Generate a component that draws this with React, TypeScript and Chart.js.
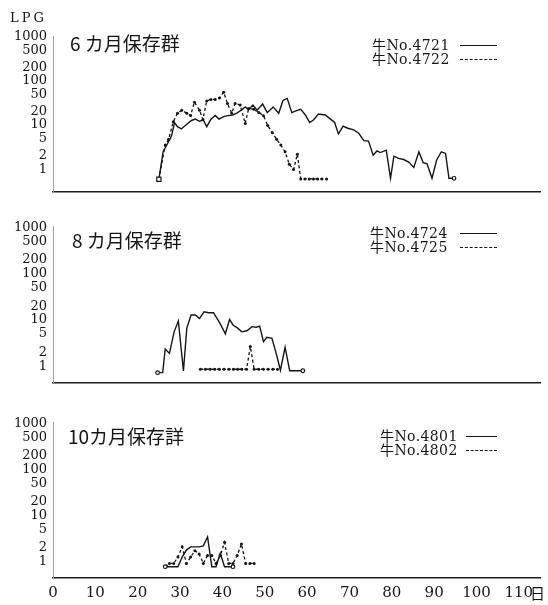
import React, { useEffect, useRef, useState } from "react";
import { Chart, registerables } from "chart.js";

Chart.register(...registerables);

// Shared axes
const dayTicks = [0, 10, 20, 30, 40, 50, 60, 70, 80, 90, 100, 110];
const lpgTicks = [1, 2, 5, 10, 20, 50, 100, 200, 500, 1000];

// 6カ月保存群
const days4721 = [25, 26, 27, 28, 28.7, 29.4, 30.3, 31.5, 32.7, 33.6, 34.6, 35.5, 36.3, 37.3, 38.3, 39.2, 40.3, 41.5, 42.4, 43.4, 44.6, 45.4, 46.2, 47.2, 48.2, 49.5, 50.6, 52, 53.3, 54.3, 55.3, 56.4, 57.5, 58.5, 59.6, 60.6, 61.5, 62.7, 64.3, 65.6, 66.5, 67.4, 68.5, 69.6, 71, 72.2, 73.4, 74.5, 75.6, 76.5, 77.3, 78.7, 79.7, 80.5, 81.6, 82.8, 84, 85.2, 86.4, 87.4, 88.3, 89.5, 90.6, 91.7, 92.7, 93.5, 94.7];
const lpg4721 = [0.57, 2.4, 3.6, 5.5, 11, 8.9, 7.9, 10, 12.3, 13.2, 11.8, 12.6, 8.9, 13.2, 16, 13.2, 15, 16, 16.3, 18, 21.5, 25, 21.5, 27.6, 21, 29, 18.5, 25, 17.9, 35, 39, 18.5, 20.5, 22, 16.4, 11, 12.6, 17.2, 16.4, 13, 11.1, 6.1, 9.2, 8.2, 7.5, 6.3, 4.3, 4.2, 2.0, 2.5, 2.3, 2.6, 0.6, 1.9, 1.7, 1.6, 1.4, 1.06, 2.4, 1.36, 1.3, 0.6, 1.56, 2.4, 2.2, 0.6, 0.6];

const days4722 = [25, 26.5, 27.3, 28.4, 29.4, 30.4, 31.6, 32.5, 33.4, 34.6, 35.4, 36.3, 37.3, 38.3, 39.3, 40.3, 41.2, 42.2, 43, 44.2, 45.4, 46.2, 47.4, 48.6, 49.7, 50.7, 51.8, 52.8, 53.8, 54.8, 55.8, 56.8, 57.7, 58.5, 59.5, 60.5, 61.5, 62.5, 63.5, 64.6];
const lpg4722 = [0.57, 3.4, 4.6, 11.5, 18, 21, 18, 16, 32, 21, 13, 34, 37, 37, 40, 54, 30, 18, 30, 27.6, 10.5, 23, 22, 18.7, 15.8, 9.5, 6.5, 4.6, 3.4, 2.4, 1.25, 0.95, 2.1, 0.58, 0.58, 0.58, 0.58, 0.58, 0.58, 0.58];

// 8カ月保存群
const days4724 = [24.7, 25.9, 26.5, 27.5, 28.6, 29.6, 30.8, 31.6, 32.6, 33.6, 34.6, 35.7, 36.7, 37.9, 39.5, 40.7, 41.7, 42.5, 43.6, 44.6, 45.8, 47, 48, 48.8, 49.7, 50.5, 51.7, 52.7, 53.7, 54.8, 55.9, 57.2, 59];
const lpg4724 = [0.71, 0.71, 2.3, 1.85, 5.4, 9.3, 0.77, 6.5, 12.5, 12.5, 10.5, 14.7, 14, 14, 8, 4.9, 10, 7.6, 6.5, 5.4, 5.7, 7, 6.8, 7.2, 3.3, 4.1, 3.9, 1.85, 0.8, 2.5, 0.78, 0.78, 0.78];

const days4725 = [34.8, 36, 37.1, 38.2, 39.3, 40.4, 41.5, 42.6, 43.6, 44.6, 45.7, 46.6, 47.5, 48.6, 49.7, 50.8, 51.9, 53];
const lpg4725 = [0.84, 0.84, 0.84, 0.84, 0.84, 0.84, 0.84, 0.84, 0.84, 0.84, 0.84, 2.6, 0.84, 0.84, 0.84, 0.84, 0.84, 0.84];

// 10カ月保存詳
const days4801 = [26.5, 27.5, 28.5, 29.5, 30.5, 31.5, 32.5, 33.5, 34.5, 35.5, 36.5, 37.5, 38.5, 39.5, 40.5, 41.5, 42.5];
const lpg4801 = [0.74, 0.74, 0.74, 0.74, 1.2, 1.7, 2.0, 2.0, 2.0, 2.1, 3.3, 0.74, 0.74, 1.45, 0.74, 0.74, 0.74];

const days4802 = [26.5, 27.5, 28.5, 29.5, 30.5, 31.5, 32.5, 33.5, 34.5, 35.5, 36.5, 37.5, 38.5, 39.5, 40.5, 41.5, 42.5, 43.5, 44.5, 45.5, 46.5, 47.5];
const lpg4802 = [0.74, 0.87, 0.87, 1.2, 2.0, 0.87, 1.2, 1.65, 1.4, 0.87, 1.3, 1.3, 0.87, 1.3, 2.5, 0.87, 0.87, 1.3, 2.3, 0.87, 0.87, 0.87];

const INK = "#151515";
const SERIF = '"DejaVu Serif", "Noto Sans CJK JP", serif';
const CJK = '"Noto Sans CJK JP", sans-serif';

type PanelProps = {
  top: number;
  height: number;
  padTop: number;
  padBottom: number;
  min: number;
  showDays: boolean;
  solidDays: number[];
  solidVals: number[];
  dashDays: number[];
  dashVals: number[];
  solidLabel: string;
  dashLabel: string;
  startSquares?: boolean;
};

function pairs(days: number[], vals: number[]) {
  return days.map((d, i) => ({ x: d, y: vals[i] }));
}

function LpgPanel(p: PanelProps) {
  const ref = useRef<HTMLCanvasElement | null>(null);
  // page positions of the LPG tick labels, read back from the log axis
  const [labelPos, setLabelPos] = useState<{ v: number; y: number; x: number }[]>([]);

  useEffect(() => {
    if (!ref.current) return;
    const nSolid = p.solidDays.length;
    const chart = new Chart(ref.current, {
      type: "line",
      data: {
        datasets: [
          {
            label: p.solidLabel,
            data: pairs(p.solidDays, p.solidVals),
            borderColor: INK,
            borderWidth: 1.4,
            tension: 0,
            fill: false,
            pointStyle: (ctx: any) => (p.startSquares && ctx.dataIndex === 0 ? "rect" : "circle"),
            pointRadius: (ctx: any) =>
              ctx.dataIndex === 0 ? (p.startSquares ? 3 : 1.8) : ctx.dataIndex === nSolid - 1 ? 1.8 : 0,
            pointBackgroundColor: "#ffffff",
            pointBorderColor: INK,
            pointBorderWidth: 1.2,
          },
          {
            label: p.dashLabel,
            data: pairs(p.dashDays, p.dashVals),
            borderColor: INK,
            borderWidth: 1.3,
            borderDash: [3, 2.5],
            tension: 0,
            fill: false,
            pointStyle: (ctx: any) => (p.startSquares && ctx.dataIndex === 0 ? "rect" : "circle"),
            pointRadius: (ctx: any) => (p.startSquares && ctx.dataIndex === 0 ? 2.5 : 1.5),
            pointBackgroundColor: INK,
            pointBorderColor: INK,
            pointBorderWidth: 0,
          },
        ],
      },
      options: {
        animation: false,
        responsive: false,
        maintainAspectRatio: false,
        events: [],
        layout: { padding: { top: p.padTop, left: 0, right: 8, bottom: p.padBottom } },
        plugins: { legend: { display: false }, tooltip: { enabled: false }, title: { display: false } },
        scales: {
          x: {
            type: "linear",
            min: 0,
            max: 115,
            afterBuildTicks: (s: any) => {
              s.ticks = dayTicks.map((v) => ({ value: v }));
            },
            afterFit: (s: any) => {
              s.height = p.showDays ? 27 : 0;
            },
            ticks: {
              display: p.showDays,
              autoSkip: false,
              maxRotation: 0,
              padding: 6,
              color: INK,
              font: { family: SERIF, size: 15 },
              callback: (v: any) => String(v),
            },
            grid: { display: false, drawTicks: false },
            border: { display: true, color: "#1e1e1e", width: 1.6 },
          },
          y: {
            type: "logarithmic",
            min: p.min,
            max: 1000,
            afterBuildTicks: (s: any) => {
              s.ticks = lpgTicks.map((v) => ({ value: v }));
            },
            afterFit: (s: any) => {
              s.width = 53;
            },
            ticks: { display: false },
            grid: { display: false, drawTicks: false },
            border: { display: true, color: "#a0a0a0", width: 1 },
          },
        },
      },
    } as any);
    const yScale = chart.scales.y;
    setLabelPos(
      lpgTicks.map((v) => ({ v, y: p.top + yScale.getPixelForValue(v), x: chart.chartArea.left - 6 }))
    );
    return () => chart.destroy();
  }, []);

  return (
    <>
      <canvas
        ref={ref}
        width={548}
        height={p.height}
        style={{ position: "absolute", left: 0, top: p.top, width: 548, height: p.height }}
      />
      {labelPos.map((l) => (
        <div
          key={l.v}
          style={{
            position: "absolute",
            right: 548 - l.x,
            top: l.y - 8,
            height: 16,
            lineHeight: "16px",
            fontFamily: SERIF,
            fontSize: 13,
            color: INK,
            textAlign: "right",
            whiteSpace: "nowrap",
          }}
        >
          {String(l.v)}
        </div>
      ))}
    </>
  );
}

type LegendProps = { left: number; lineLeft: number; y1: number; y2: number; solid: string; dashed: string };

function LegendRows(l: LegendProps) {
  const row = (y: number, text: string, style: "solid" | "dashed") => (
    <React.Fragment key={text}>
      <div
        style={{
          position: "absolute",
          left: l.left,
          top: y - 9,
          height: 18,
          lineHeight: "18px",
          fontFamily: SERIF,
          fontSize: 14,
          letterSpacing: 0.4,
          color: INK,
          whiteSpace: "nowrap",
        }}
      >
        {text}
      </div>
      <div
        style={{
          position: "absolute",
          left: l.lineLeft,
          top: y,
          width: 497 - l.lineLeft,
          height: 0,
          borderTop: style === "solid" ? `1.5px solid ${INK}` : `1.5px dashed ${INK}`,
        }}
      />
    </React.Fragment>
  );
  return (
    <>
      {row(l.y1, l.solid, "solid")}
      {row(l.y2, l.dashed, "dashed")}
    </>
  );
}

function PanelTitle({ left, cy, text }: { left: number; cy: number; text: string }) {
  return (
    <div
      style={{
        position: "absolute",
        left,
        top: cy - 11,
        height: 22,
        lineHeight: "22px",
        fontFamily: CJK,
        fontSize: 19,
        color: INK,
        whiteSpace: "nowrap",
      }}
    >
      {text}
    </div>
  );
}

export default function App() {
  return (
    <div style={{ position: "absolute", left: 0, top: 0, width: 548, height: 605, background: "#ffffff", overflow: "hidden" }}>
      <LpgPanel
        top={0}
        height={205}
        padTop={36.3}
        padBottom={13}
        min={0.293}
        showDays={false}
        solidDays={days4721}
        solidVals={lpg4721}
        dashDays={days4722}
        dashVals={lpg4722}
        solidLabel="牛No.4721"
        dashLabel="牛No.4722"
        startSquares
      />
      <LpgPanel
        top={205}
        height={190}
        padTop={21.85}
        padBottom={12}
        min={0.424}
        showDays={false}
        solidDays={days4724}
        solidVals={lpg4724}
        dashDays={days4725}
        dashVals={lpg4725}
        solidLabel="牛No.4724"
        dashLabel="牛No.4725"
      />
      <LpgPanel
        top={395}
        height={210}
        padTop={27.7}
        padBottom={0}
        min={0.42}
        showDays={true}
        solidDays={days4801}
        solidVals={lpg4801}
        dashDays={days4802}
        dashVals={lpg4802}
        solidLabel="牛No.4801"
        dashLabel="牛No.4802"
      />

      <div
        style={{
          position: "absolute",
          left: 10,
          top: 9,
          height: 18,
          lineHeight: "18px",
          fontFamily: SERIF,
          fontSize: 13,
          letterSpacing: 3,
          color: INK,
        }}
      >
        LPG
      </div>

      <PanelTitle left={70} cy={43} text="6 カ月保存群" />
      <PanelTitle left={72} cy={240} text="8 カ月保存群" />
      <PanelTitle left={68} cy={436} text="10カ月保存詳" />

      <LegendRows left={372} lineLeft={460} y1={45} y2={59} solid="牛No.4721" dashed="牛No.4722" />
      <LegendRows left={370} lineLeft={460} y1={233} y2={247} solid="牛No.4724" dashed="牛No.4725" />
      <LegendRows left={380} lineLeft={466} y1={436} y2={450} solid="牛No.4801" dashed="牛No.4802" />

      <div
        style={{
          position: "absolute",
          left: 530,
          top: 583,
          height: 20,
          lineHeight: "20px",
          fontFamily: CJK,
          fontSize: 15,
          color: INK,
        }}
      >
        日
      </div>
    </div>
  );
}
